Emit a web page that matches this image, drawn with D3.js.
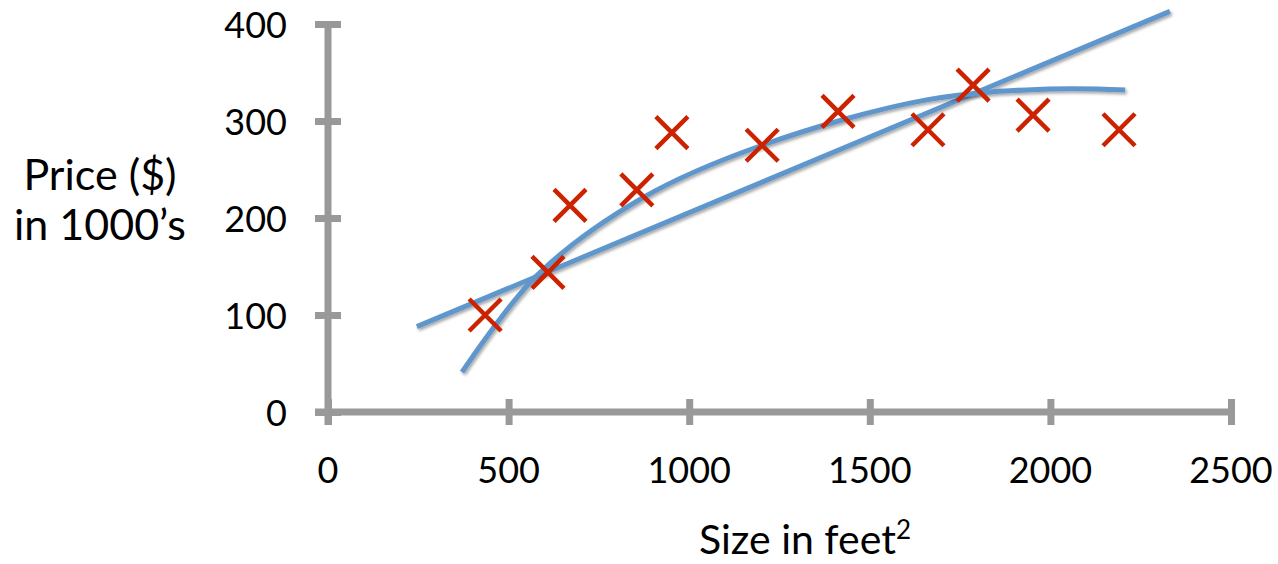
<!DOCTYPE html>
<html>
<head>
<style>
  body { margin: 0; background: #fff; overflow: hidden; }
  svg text { font-family: Lato, "Open Sans", sans-serif; fill: #000; }
</style>
<script src="https://d3js.org/d3.v7.min.js"></script>
</head>
<body>
<script>
// houses: size (feet^2) vs price ($1000s)
const sizes  = [435, 609, 670, 855, 952, 1202, 1412, 1661, 1786, 1952, 2190];
const prices = [100, 144, 213, 229, 288, 275, 310, 291, 337, 306, 291];

// straight line fit, read at both ends
const lineX = [246, 2331];
const lineY = [88, 413];

// curved fit
const curveX = [371, 579, 872, 1202, 1661, 2000, 2207];
const curveY = [41, 141, 221, 275, 322, 333, 332];

const xTicks = [0, 500, 1000, 1500, 2000, 2500];
const yTicks = [0, 100, 200, 300, 400];

const W = 1278, H = 564;
const svg = d3.select("body").append("svg").attr("width", W).attr("height", H);

const x = d3.scaleLinear().domain([0, 2500]).range([328, 1231]);
const y = d3.scaleLinear().domain([0, 400]).range([412, 24]);

const defs = svg.append("defs");
defs.append("filter").attr("id", "shadow")
    .attr("x", "-10%").attr("y", "-10%").attr("width", "120%").attr("height", "120%")
  .append("feDropShadow")
    .attr("dx", 1.5).attr("dy", 2).attr("stdDeviation", 1.5)
    .attr("flood-color", "#000").attr("flood-opacity", 0.35);

const axisColor = "#999";

// axes
const xAxis = svg.append("g").attr("transform", `translate(0,${y(0)})`)
    .call(d3.axisBottom(x).tickValues(xTicks).tickSize(0).tickFormat(""));
xAxis.select(".domain").remove();
xAxis.append("line").attr("x1", 315).attr("x2", x(2500))
    .attr("stroke", axisColor).attr("stroke-width", 7);
xAxis.selectAll(".tick").append("line")
    .attr("y1", -13).attr("y2", 13)
    .attr("stroke", axisColor).attr("stroke-width", 7);

const yAxis = svg.append("g").attr("transform", `translate(${x(0)},0)`)
    .call(d3.axisLeft(y).tickValues(yTicks).tickSize(0).tickFormat(""));
yAxis.select(".domain").remove();
yAxis.append("line").attr("y1", y(400)).attr("y2", y(0) + 13)
    .attr("stroke", axisColor).attr("stroke-width", 7);
yAxis.selectAll(".tick").append("line")
    .attr("x1", -13).attr("x2", 13)
    .attr("stroke", axisColor).attr("stroke-width", 7);

// tick labels
svg.selectAll(".xl").data(xTicks).enter().append("text")
    .attr("x", d => x(d)).attr("y", 483)
    .attr("text-anchor", "middle").style("font-size", "36px")
    .text(d => d);
svg.selectAll(".yl").data(yTicks).enter().append("text")
    .attr("x", 287).attr("y", d => y(d)).attr("dy", "0.38em")
    .attr("text-anchor", "end").style("font-size", "36px")
    .text(d => d);

// axis titles
svg.append("text").attr("x", 100).attr("y", 190)
    .attr("text-anchor", "middle").style("font-size", "43px").text("Price ($)");
svg.append("text").attr("x", 100).attr("y", 240)
    .attr("text-anchor", "middle").style("font-size", "43px").text("in 1000\u2019s");
const xt = svg.append("text").attr("x", 805).attr("y", 554)
    .attr("text-anchor", "middle").style("font-size", "41px");
xt.append("tspan").text("Size in feet");
xt.append("tspan").attr("dy", -15).style("font-size", "26px").text("2");

// fits
const blue = "#5f96cb";
svg.append("path")
    .datum(lineX.map((d, i) => [d, lineY[i]]))
    .attr("d", d3.line().x(d => x(d[0])).y(d => y(d[1])))
    .attr("fill", "none").attr("stroke", blue).attr("stroke-width", 5)
    .attr("filter", "url(#shadow)");
svg.append("path")
    .datum(curveX.map((d, i) => [d, curveY[i]]))
    .attr("d", d3.line().curve(d3.curveCatmullRom).x(d => x(d[0])).y(d => y(d[1])))
    .attr("fill", "none").attr("stroke", blue).attr("stroke-width", 5)
    .attr("filter", "url(#shadow)");

// crosses
const s = 16;
const pts = svg.selectAll(".pt").data(sizes).enter().append("g")
    .attr("transform", (d, i) => `translate(${x(d)},${y(prices[i])})`);
pts.append("path")
    .attr("d", `M${-s},${-s}L${s},${s}M${-s},${s}L${s},${-s}`)
    .attr("stroke", "#cc2200").attr("stroke-width", 4.5).attr("fill", "none");
</script>
</body>
</html>
